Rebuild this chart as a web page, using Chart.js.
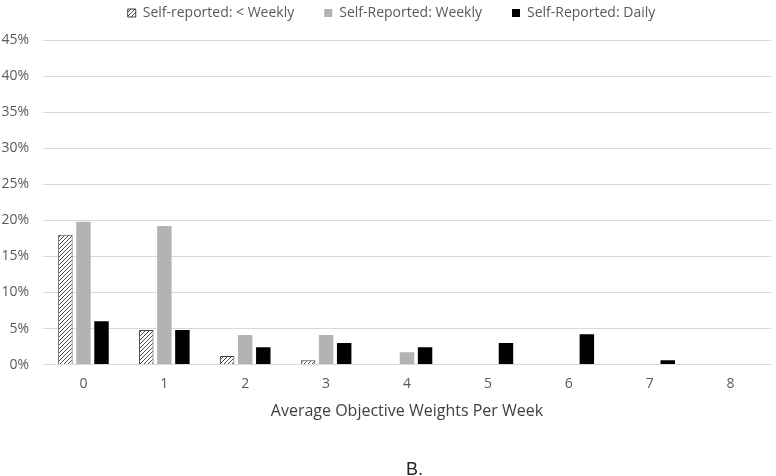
<!DOCTYPE html>
<html>
<head>
<meta charset="utf-8">
<script src="https://cdn.jsdelivr.net/npm/chart.js@4.4.1/dist/chart.umd.min.js"></script>
<style>
  html, body { margin: 0; padding: 0; background: #fff; }
  #wrap { width: 776px; height: 476px; }
</style>
</head>
<body>
<div id="wrap"><canvas id="chart" width="776" height="476"></canvas></div>
<script>
// categories and series (percent of participants)
const categories = ["0", "1", "2", "3", "4", "5", "6", "7", "8"];
const lessThanWeekly = [18.0, 4.8, 1.2, 0.6, 0, 0, 0, 0, 0];
const weekly = [19.8, 19.2, 4.1, 4.1, 1.7, 0, 0, 0, 0];
const daily = [6.0, 4.8, 2.4, 3.0, 2.4, 3.0, 4.2, 0.6, 0];
const yTicks = [0, 5, 10, 15, 20, 25, 30, 35, 40, 45];

// diagonal hatch pattern for the "< Weekly" series
function makeHatch() {
  const c = document.createElement('canvas');
  c.width = 4;
  c.height = 4;
  const g = c.getContext('2d');
  g.fillStyle = '#ffffff';
  g.fillRect(0, 0, 4, 4);
  g.strokeStyle = '#4a4a4a';
  g.lineWidth = 1;
  g.beginPath();
  g.moveTo(0, 4); g.lineTo(4, 0);
  g.moveTo(-1, 1); g.lineTo(1, -1);
  g.moveTo(3, 5); g.lineTo(5, 3);
  g.stroke();
  return g.createPattern(c, 'repeat');
}

// legend padding is large for the horizontal gaps; keep its height fixed
// and nudge legend and bottom label a little to the right like the original
const layoutTweaks = {
  id: 'layoutTweaks',
  beforeLayout(chart) {
    const lg = chart.legend;
    if (lg && !lg._fixed) {
      const fit = lg.fit.bind(lg);
      lg.fit = function () { fit(); this.height = 64; };
      lg._fixed = true;
    }
  },
  afterLayout(chart) {
    if (chart.legend) chart.legend.left += 12;
    if (chart.titleBlock) chart.titleBlock.left += 58;
  }
};

const font = "'Open Sans', 'DejaVu Sans', sans-serif";
const textColor = '#595959';

const ctx = document.getElementById('chart').getContext('2d');
new Chart(ctx, {
  type: 'bar',
  data: {
    labels: categories,
    datasets: [
      {
        label: 'Self-reported: < Weekly',
        data: lessThanWeekly,
        backgroundColor: makeHatch(),
        borderColor: '#404040',
        borderWidth: 1
      },
      {
        label: 'Self-Reported: Weekly',
        data: weekly,
        backgroundColor: '#b3b3b3',
        borderWidth: 0
      },
      {
        label: 'Self-Reported: Daily',
        data: daily,
        backgroundColor: '#000000',
        borderWidth: 0
      }
    ]
  },
  plugins: [layoutTweaks],
  options: {
    responsive: false,
    animation: false,
    categoryPercentage: 0.67,
    barPercentage: 0.8,
    layout: { padding: { left: 0, right: 5, top: -24, bottom: 0 } },
    plugins: {
      legend: {
        position: 'top',
        labels: {
          boxWidth: 8,
          boxHeight: 8,
          padding: 30,
          color: textColor,
          font: { family: font, size: 14 }
        }
      },
      title: {
        display: true,
        position: 'bottom',
        text: 'B.',
        color: '#262626',
        font: { family: "'Liberation Sans', Arial, sans-serif", size: 18, weight: 'normal', lineHeight: 0.667 },
        padding: { top: 32.4, bottom: 0 }
      },
      tooltip: { enabled: false }
    },
    scales: {
      x: {
        grid: { display: false, drawTicks: false },
        border: { display: true, color: '#d9d9d9' },
        ticks: { color: textColor, font: { family: font, size: 14 }, padding: 11 },
        title: {
          display: true,
          text: 'Average Objective Weights Per Week',
          color: '#404040',
          font: { family: font, size: 16 },
          padding: { top: 2, bottom: 11 }
        },
        afterFit: function (scale) { scale.height = 67; }
      },
      y: {
        min: 0,
        max: 45,
        afterBuildTicks: function (scale) {
          scale.ticks = yTicks.map(v => ({ value: v }));
        },
        grid: { color: '#d9d9d9', drawTicks: false },
        border: { display: false },
        ticks: {
          color: textColor,
          font: { family: font, size: 14 },
          padding: 14,
          callback: v => v + '%'
        },
        afterFit: function (scale) { scale.width = 43; }
      }
    }
  }
});
</script>
</body>
</html>
